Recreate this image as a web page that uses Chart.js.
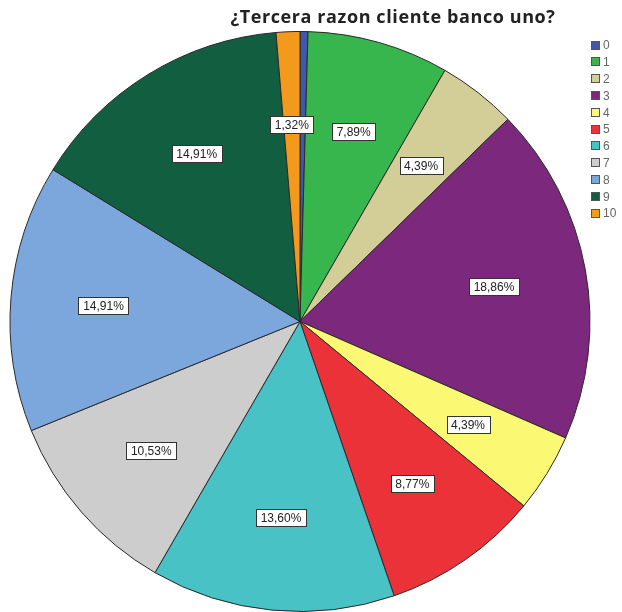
<!DOCTYPE html>
<html>
<head>
<meta charset="utf-8">
<script src="https://cdn.jsdelivr.net/npm/chart.js@4/dist/chart.umd.min.js"></script>
<style>
    body { margin: 0; background: #fff; }
    #wrap { width: 622px; height: 612px; position: relative; }
</style>
</head>
<body>
<div id="wrap"><canvas id="pieChart"></canvas></div>
<script>
// Tercera razon - percentage of answers per category
const titleText = '¿Tercera razon cliente banco uno?';
const categories = ['0', '1', '2', '3', '4', '5', '6', '7', '8', '9', '10'];
const percents = [0.44, 7.89, 4.39, 18.86, 4.39, 8.77, 13.60, 10.53, 14.91, 14.91, 1.32];
const colors = ['#3e58ac', '#36b64c', '#d3ce98', '#7c287d', '#fbf873', '#ec3239',
                '#48c2c5', '#cdcdcd', '#7ba7dd', '#115e41', '#f39a1c'];

function formatPercent(v) {
    return v.toFixed(2).replace('.', ',') + '%';
}

// title drawn above the pie, a bit right of the centre
const titlePlugin = {
    id: 'spssTitle',
    afterDraw(chart) {
        let ctx = chart.ctx;
        ctx.save();
        ctx.font = 'bold 18px "Open Sans"';
        ctx.letterSpacing = '0.6px';
        ctx.fillStyle = '#222';
        ctx.textAlign = 'center';
        ctx.textBaseline = 'middle';
        ctx.fillText(titleText, 393, 18);
        ctx.restore();
    }
};

// boxed value labels inside each slice
const valueLabels = {
    id: 'valueLabels',
    afterDatasetsDraw(chart) {
        let ctx = chart.ctx;
        let meta = chart.getDatasetMeta(0);
        let values = chart.data.datasets[0].data;
        ctx.save();
        ctx.font = '12px "Liberation Sans"';
        ctx.textAlign = 'center';
        ctx.textBaseline = 'middle';
        meta.data.forEach((arc, i) => {
            if (values[i] < 1) return;
            let mid = (arc.startAngle + arc.endAngle) / 2;
            let r = arc.outerRadius * 0.68;
            let x = arc.x + Math.cos(mid) * r;
            let y = arc.y + Math.sin(mid) * r;
            let text = formatPercent(values[i]);
            let w = Math.round(ctx.measureText(text).width + 9);
            let h = 17;
            let left = Math.round(x - w / 2) + 0.5;
            let top = Math.round(y - h / 2) + 0.5;
            ctx.fillStyle = '#fff';
            ctx.fillRect(left, top, w, h);
            ctx.strokeStyle = '#333';
            ctx.lineWidth = 1;
            ctx.strokeRect(left, top, w, h);
            ctx.fillStyle = '#222';
            ctx.fillText(text, x, y + 1);
        });
        ctx.restore();
    }
};

// small legend stacked in the top right corner
const cornerLegend = {
    id: 'cornerLegend',
    afterDraw(chart) {
        let ctx = chart.ctx;
        let labels = chart.data.labels;
        let fills = chart.data.datasets[0].backgroundColor;
        ctx.save();
        ctx.font = '12px "Liberation Sans"';
        ctx.textBaseline = 'middle';
        ctx.textAlign = 'left';
        labels.forEach((lab, i) => {
            let cy = 45 + i * 16.8;
            ctx.fillStyle = fills[i];
            ctx.fillRect(591, Math.round(cy - 4.5), 9, 9);
            ctx.strokeStyle = '#555';
            ctx.lineWidth = 1;
            ctx.strokeRect(591.5, Math.round(cy - 4.5) + 0.5, 8, 8);
            ctx.fillStyle = '#666';
            ctx.fillText(lab, 603, cy + 1);
        });
        ctx.restore();
    }
};

new Chart(document.getElementById('pieChart'), {
    type: 'pie',
    data: {
        labels: categories,
        datasets: [{
            data: percents,
            backgroundColor: colors,
            borderColor: '#2a2a2a',
            borderWidth: 1
        }]
    },
    options: {
        responsive: true,
        maintainAspectRatio: false,
        animation: false,
        layout: { padding: { top: 31, left: 9, right: 31, bottom: 0 } },
        plugins: {
            legend: { display: false },
            title: { display: false },
            tooltip: { enabled: false }
        }
    },
    plugins: [valueLabels, titlePlugin, cornerLegend]
});
</script>
</body>
</html>
